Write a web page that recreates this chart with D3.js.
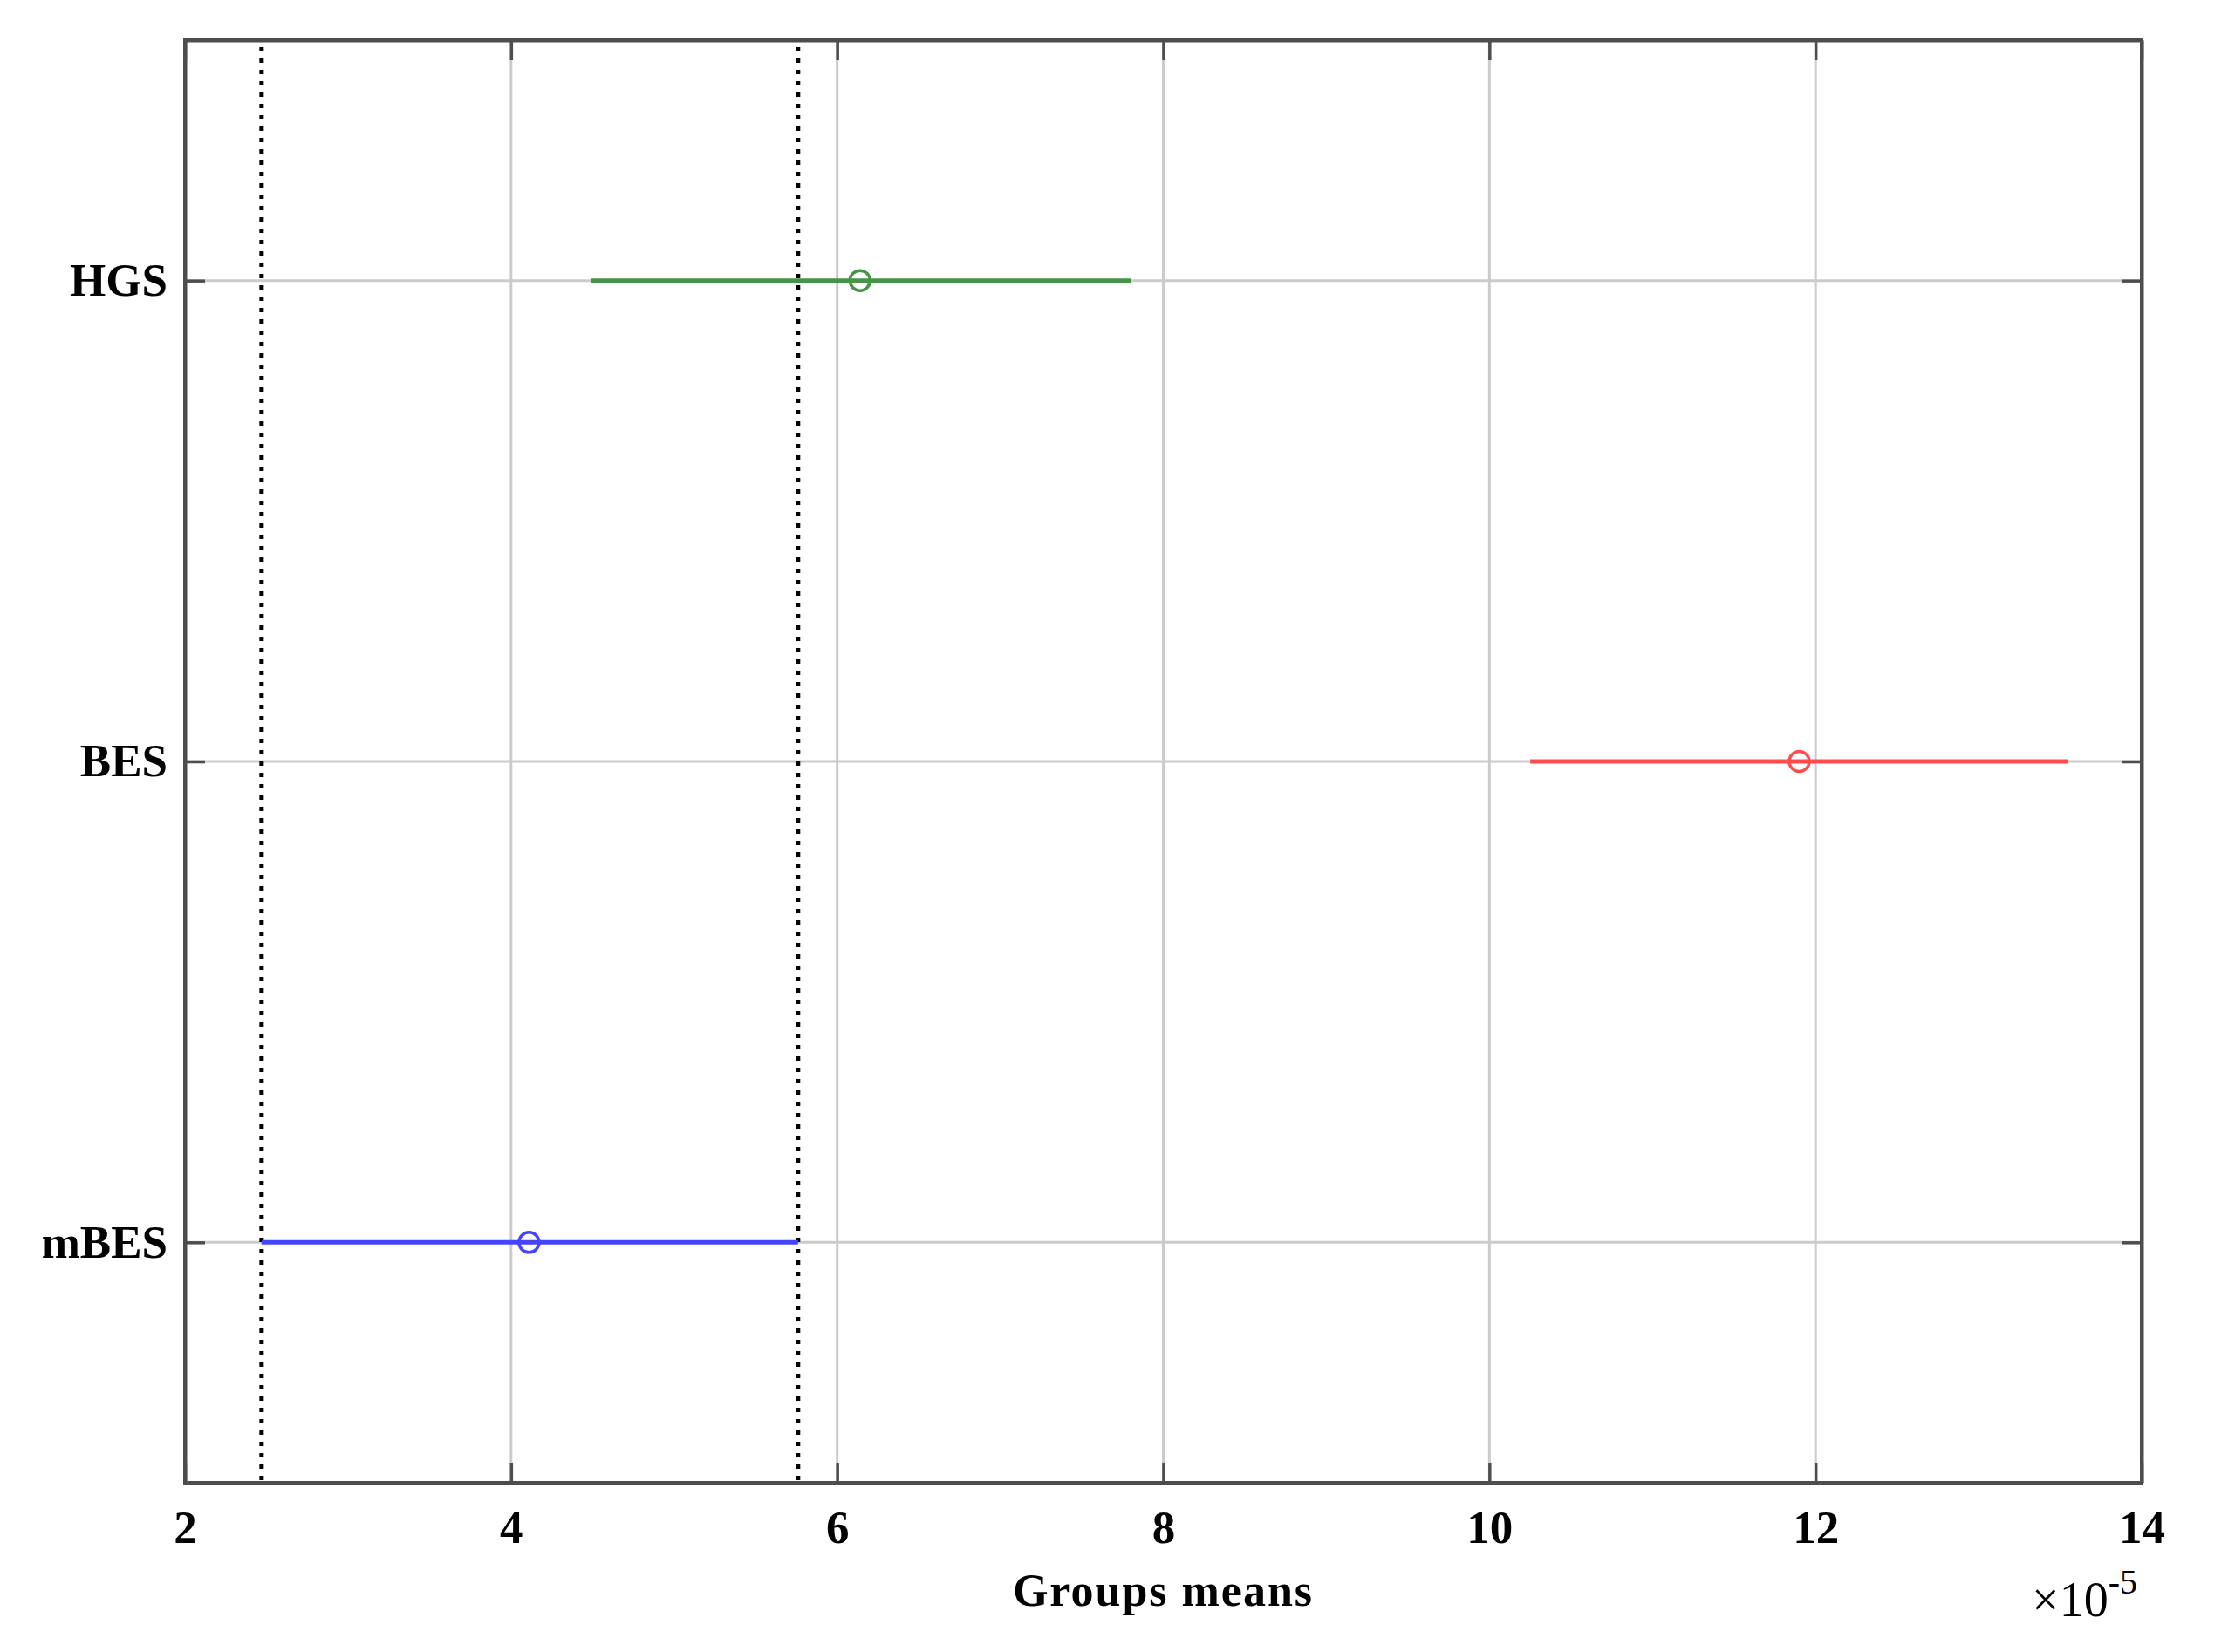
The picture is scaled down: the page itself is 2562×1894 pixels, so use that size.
<!DOCTYPE html>
<html>
<head>
<meta charset="utf-8">
<script src="https://cdn.jsdelivr.net/npm/d3@7"></script>
<style>
	body { margin: 0; background: #fff; }
	text { font-family: 'Liberation Serif', 'Times New Roman', serif; }
</style>
</head>
<body>
<div id="chart"></div>
<script>
'use strict';

// data (x values in units of 1e-5)
var groups = ['HGS', 'BES', 'mBES'];
var means = [6.14, 11.90, 4.11];
var lower = [4.49, 10.25, 2.47];
var upper = [7.80, 13.55, 5.76];
var groupColors = ['#469546', '#ff4d4d', '#4545ff'];
var refLines = [2.47, 5.76]; // comparison interval of the selected group (mBES)
var xTicks = [2, 4, 6, 8, 10, 12, 14];

main();

function main(){
	//configuration
	var width = 2562,
		height = 1894,
		margin = {
			top: 46,
			left: 212,
			bottom: 194,
			right: 107
		},
		innerW = width - margin.left - margin.right,
		innerH = height - margin.top - margin.bottom;

	var rows = groups.map(function(g, i){
		return { name: g, mean: means[i], lo: lower[i], hi: upper[i], color: groupColors[i] };
	});

	var x = d3.scaleLinear().domain([2, 14]).range([0, innerW]);
	var y = d3.scalePoint().domain(groups).range([0, innerH]).padding(0.5);

	var svg = d3.select('#chart')
		.append('svg')
			.attr('width', width)
			.attr('height', height)
		.append('g')
			.attr('transform', 'translate(' + margin.left + ',' + margin.top + ')');

	// grid
	svg.append('g').selectAll('line.vgrid')
		.data(xTicks)
		.enter().append('line')
			.attr('x1', function(d){ return x(d); })
			.attr('x2', function(d){ return x(d); })
			.attr('y1', 0)
			.attr('y2', innerH)
			.attr('stroke', '#cbcbcb')
			.attr('stroke-width', 3);

	svg.append('g').selectAll('line.hgrid')
		.data(groups)
		.enter().append('line')
			.attr('x1', 0)
			.attr('x2', innerW)
			.attr('y1', function(d){ return y(d); })
			.attr('y2', function(d){ return y(d); })
			.attr('stroke', '#cbcbcb')
			.attr('stroke-width', 3);

	// dotted reference lines
	svg.append('g').selectAll('line')
		.data(refLines)
		.enter().append('line')
			.attr('x1', function(d){ return x(d); })
			.attr('x2', function(d){ return x(d); })
			.attr('y1', 8)
			.attr('y2', innerH)
			.attr('stroke', '#000')
			.attr('stroke-width', 5)
			.attr('stroke-dasharray', '5,8');

	// intervals
	var mark = svg.append('g').selectAll('g')
		.data(rows)
		.enter().append('g');

	mark.append('line')
		.attr('x1', function(d){ return x(d.lo); })
		.attr('x2', function(d){ return x(d.hi); })
		.attr('y1', function(d){ return y(d.name); })
		.attr('y2', function(d){ return y(d.name); })
		.attr('stroke', function(d){ return d.color; })
		.attr('stroke-width', 5);

	mark.append('circle')
		.attr('cx', function(d){ return x(d.mean); })
		.attr('cy', function(d){ return y(d.name); })
		.attr('r', 11.5)
		.attr('fill', 'none')
		.attr('stroke', function(d){ return d.color; })
		.attr('stroke-width', 3.5);

	// axes
	var axisColor = '#4d4d4d';

	svg.append('g')
		.attr('transform', 'translate(0,' + innerH + ')')
		.call(d3.axisBottom(x).tickValues(xTicks).tickSizeInner(-23).tickSizeOuter(0).tickPadding(31)
			.tickFormat(d3.format('d')));

	svg.append('g')
		.call(d3.axisTop(x).tickValues(xTicks).tickSizeInner(-23).tickSizeOuter(0).tickFormat(''));

	svg.append('g')
		.call(d3.axisLeft(y).tickSizeInner(-23).tickSizeOuter(0).tickPadding(20));

	svg.append('g')
		.attr('transform', 'translate(' + innerW + ',0)')
		.call(d3.axisRight(y).tickSizeInner(-23).tickSizeOuter(0).tickFormat(''));

	svg.selectAll('.domain').attr('stroke', axisColor).attr('stroke-width', 4);
	svg.selectAll('.tick line').attr('stroke', axisColor).attr('stroke-width', 3.5);
	svg.selectAll('.tick text')
		.attr('fill', '#000')
		.style('font-size', '53px')
		.style('font-weight', 'bold');

	// box
	svg.append('rect')
		.attr('width', innerW)
		.attr('height', innerH)
		.attr('fill', 'none')
		.attr('stroke', axisColor)
		.attr('stroke-width', 4);

	// axis label
	svg.append('text')
		.attr('x', innerW / 2)
		.attr('y', innerH + 141)
		.attr('text-anchor', 'middle')
		.style('font-size', '52px')
		.style('font-weight', 'bold')
		.style('letter-spacing', '2px')
		.text('Groups means');

	// exponent
	var ex = svg.append('text')
		.attr('x', innerW - 5)
		.attr('y', innerH + 153)
		.attr('text-anchor', 'end')
		.style('font-size', '56px');
	ex.append('tspan').text('×10');
	ex.append('tspan')
		.attr('dy', -26)
		.style('font-size', '40px')
		.text('-5');
}
</script>
</body>
</html>
